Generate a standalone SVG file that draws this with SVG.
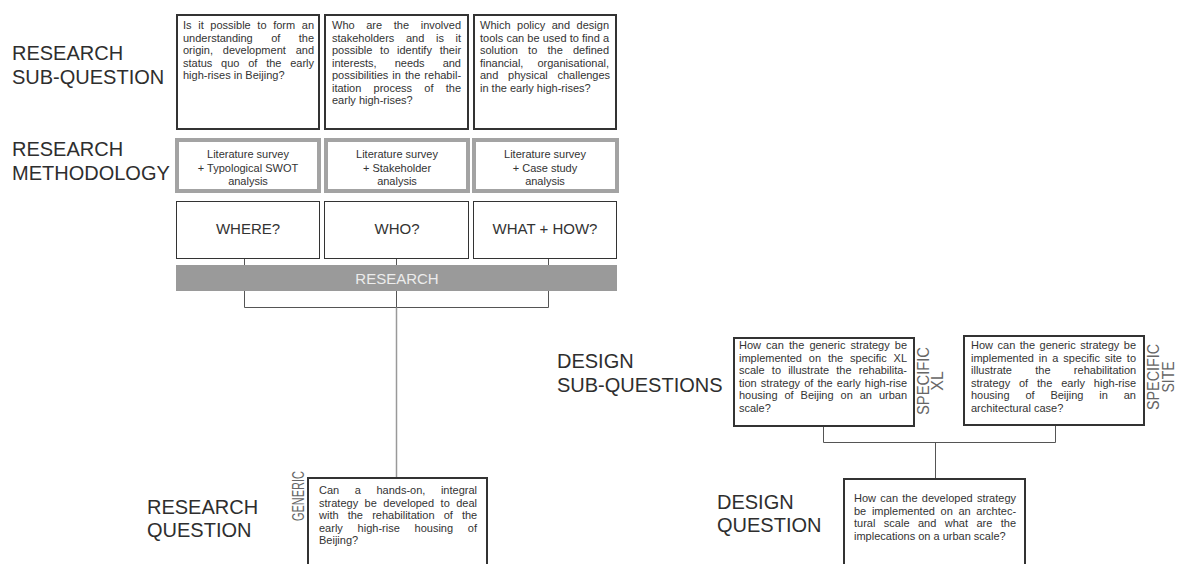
<svg xmlns="http://www.w3.org/2000/svg" width="1178" height="564" viewBox="0 0 1178 564">
<style>
text{font-family:"Liberation Sans",Arial,sans-serif;fill:#333}
.lbl{font-size:20px;fill:#2e2e2e}
.t{font-size:11px}
.c{font-size:11px;text-anchor:middle}
.q{font-size:15px;text-anchor:middle}
.v{font-size:16px;fill:#666;text-anchor:middle}
.box{fill:#fff;stroke:#333;stroke-width:2}
.thin{fill:#fff;stroke:#333;stroke-width:1}
.meth{fill:#fff;stroke:#a3a3a3;stroke-width:4}
.ln{fill:none;stroke:#555;stroke-width:1}
.trunk{fill:none;stroke:#999;stroke-width:1.5}
</style>

<g id="connectors">
<path class="ln" d="M244.5 259V307.5H548.5V259M396.5 259V307.5"/>
<path class="trunk" d="M396.5 307.5V478"/>
<path class="ln" d="M823.5 427V442.5H1055.5V426M935.5 442.5V479"/>
</g>

<g id="labels">
<text class="lbl" x="12" y="60">RESEARCH</text>
<text class="lbl" x="12" y="84">SUB-QUESTION</text>
<text class="lbl" x="12" y="156">RESEARCH</text>
<text class="lbl" x="12" y="180">METHODOLOGY</text>
<text class="lbl" x="147" y="514">RESEARCH</text>
<text class="lbl" x="147" y="537">QUESTION</text>
<text class="lbl" x="557" y="368">DESIGN</text>
<text class="lbl" x="557" y="392">SUB-QUESTIONS</text>
<text class="lbl" x="717" y="509">DESIGN</text>
<text class="lbl" x="717" y="532">QUESTION</text>
</g>

<g id="subq1">
<rect class="box" x="177" y="15" width="142" height="114"/>
<text class="t"><tspan x="183" y="29" style="word-spacing:3.58px">Is it possible to form an</tspan><tspan x="183" y="41.5" style="word-spacing:15.35px">understanding of the</tspan><tspan x="183" y="54" style="word-spacing:6.8px">origin, development and</tspan><tspan x="183" y="66.5" style="word-spacing:5.7px">status quo of the early</tspan><tspan x="183" y="79">high-rises in Beijing?</tspan></text>
</g>
<g id="subq2">
<rect class="box" x="325" y="15" width="143" height="114"/>
<text class="t"><tspan x="332" y="29" style="word-spacing:8.57px">Who are the involved</tspan><tspan x="332" y="41.5" style="word-spacing:8.57px">stakeholders and is it</tspan><tspan x="332" y="54" style="word-spacing:4.7px">possible to identify their</tspan><tspan x="332" y="66.5" style="word-spacing:14.96px">interests, needs and</tspan><tspan x="332" y="79" style="word-spacing:1.03px">possibilities in the rehabil-</tspan><tspan x="332" y="91.5" style="word-spacing:9.17px">itation process of the</tspan><tspan x="332" y="104">early high-rises?</tspan></text>
</g>
<g id="subq3">
<rect class="box" x="474" y="15" width="142" height="114"/>
<text class="t"><tspan x="480" y="29" style="word-spacing:3.47px">Which policy and design</tspan><tspan x="480" y="41.5" style="word-spacing:0.1px">tools can be used to find a</tspan><tspan x="480" y="54" style="word-spacing:7.13px">solution to the defined</tspan><tspan x="480" y="66.5" style="word-spacing:11px">financial, organisational,</tspan><tspan x="480" y="79" style="word-spacing:6.65px">and physical challenges</tspan><tspan x="480" y="91.5">in the early high-rises?</tspan></text>
</g>

<g id="meth1">
<rect class="meth" x="177" y="140" width="142" height="51"/>
<text class="c"><tspan x="248" y="158">Literature survey</tspan><tspan x="248" y="171.5">+ Typological SWOT</tspan><tspan x="248" y="185">analysis</tspan></text>
</g>
<g id="meth2">
<rect class="meth" x="326" y="140" width="142" height="51"/>
<text class="c"><tspan x="397" y="158">Literature survey</tspan><tspan x="397" y="171.5">+ Stakeholder</tspan><tspan x="397" y="185">analysis</tspan></text>
</g>
<g id="meth3">
<rect class="meth" x="474" y="140" width="143" height="51"/>
<text class="c"><tspan x="545" y="158">Literature survey</tspan><tspan x="545" y="171.5">+ Case study</tspan><tspan x="545" y="185">analysis</tspan></text>
</g>

<g id="where">
<rect class="thin" x="176.5" y="201.5" width="143" height="57"/>
<text class="q" x="248" y="234">WHERE?</text>
</g>
<g id="who">
<rect class="thin" x="324.5" y="201.5" width="144" height="57"/>
<text class="q" x="397" y="234">WHO?</text>
</g>
<g id="whathow">
<rect class="thin" x="473.5" y="201.5" width="143" height="57"/>
<text class="q" x="545" y="234">WHAT + HOW?</text>
</g>

<g id="research">
<rect x="176" y="265" width="441" height="26" fill="#9a9a9a"/>
<text class="q" x="397" y="284" style="fill:#ececec">RESEARCH</text>
</g>

<g id="researchq">
<rect class="box" x="308" y="478" width="179" height="100"/>
<text class="v" transform="translate(304 496) rotate(-90)" textLength="50" lengthAdjust="spacingAndGlyphs">GENERIC</text>
<text class="t"><tspan x="319" y="494" style="word-spacing:12.5px">Can a hands-on, integral</tspan><tspan x="319" y="506.5" style="word-spacing:3.43px">strategy be developed to deal</tspan><tspan x="319" y="519" style="word-spacing:6.08px">with the rehabilitation of the</tspan><tspan x="319" y="531.5" style="word-spacing:11.7px">early high-rise housing of</tspan><tspan x="319" y="544">Beijing?</tspan></text>
</g>

<g id="designsub1">
<rect class="box" x="734" y="338" width="180" height="88"/>
<text class="t"><tspan x="739" y="349" style="word-spacing:2.06px">How can the generic strategy be</tspan><tspan x="739" y="361.5" style="word-spacing:3.8px">implemented on the specific XL</tspan><tspan x="739" y="374" style="word-spacing:4.1px">scale to illustrate the rehabilita-</tspan><tspan x="739" y="386.5" style="word-spacing:1.08px">tion strategy of the early high-rise</tspan><tspan x="739" y="399" style="word-spacing:3.88px">housing of Beijing on an urban</tspan><tspan x="739" y="411.5">scale?</tspan></text>
<text class="v" transform="translate(929 381) rotate(-90)" textLength="68" lengthAdjust="spacingAndGlyphs">SPECIFIC</text>
<text class="v" transform="translate(943 381) rotate(-90)">XL</text>
</g>

<g id="designsub2">
<rect class="box" x="964" y="336" width="180" height="89"/>
<text class="t"><tspan x="971" y="349" style="word-spacing:1.46px">How can the generic strategy be</tspan><tspan x="971" y="361.5" style="word-spacing:1.82px">implemented in a specific site to</tspan><tspan x="971" y="374" style="word-spacing:20.25px">illustrate the rehabilitation</tspan><tspan x="971" y="386.5" style="word-spacing:5.8px">strategy of the early high-rise</tspan><tspan x="971" y="399" style="word-spacing:12.8px">housing of Beijing in an</tspan><tspan x="971" y="411.5">architectural case?</tspan></text>
<text class="v" transform="translate(1159 377) rotate(-90)" textLength="66" lengthAdjust="spacingAndGlyphs">SPECIFIC</text>
<text class="v" transform="translate(1174 377) rotate(-90)" textLength="31" lengthAdjust="spacingAndGlyphs">SITE</text>
</g>

<g id="designq">
<rect class="box" x="844" y="479" width="181" height="100"/>
<text class="t"><tspan x="854" y="502" style="word-spacing:1.22px">How can the developed strategy</tspan><tspan x="854" y="514.5" style="word-spacing:2.6px">be implemented on an archtec-</tspan><tspan x="854" y="527" style="word-spacing:5.38px">tural scale and what are the</tspan><tspan x="854" y="539.5">implecations on a urban scale?</tspan></text>
</g>
</svg>
